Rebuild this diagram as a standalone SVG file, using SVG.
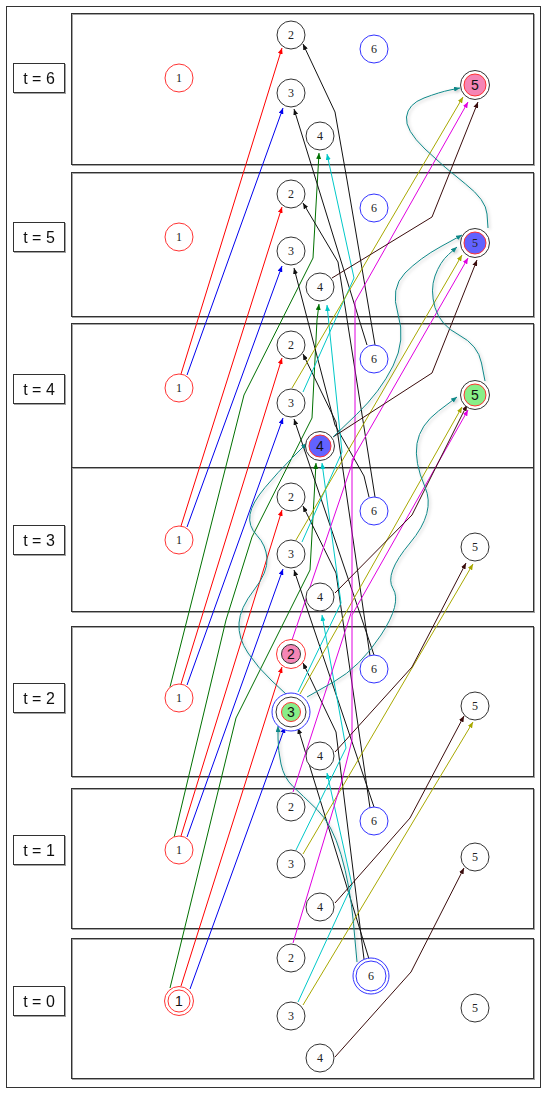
<svg xmlns="http://www.w3.org/2000/svg" width="547" height="1094" viewBox="0 0 547 1094">
<style>
.bg{fill:#fff}
.outer{fill:none;stroke:#333;stroke-width:1}
.panel{fill:none;stroke:#333;stroke-width:1}
.tbox{fill:#fff;stroke:#333;stroke-width:1}
.tl{font-family:"Liberation Sans",Arial,sans-serif;font-size:16px;fill:#111;text-anchor:middle}
.nc{fill:#fff;stroke:#333;stroke-width:1}
.nr{fill:#fff;stroke:#f33;stroke-width:1}
.nb{fill:#fff;stroke:#33f;stroke-width:1}
.nl{font-family:"Liberation Serif","Times New Roman",serif;font-size:12px;fill:#222;text-anchor:middle}
.hl{font-family:"Liberation Sans",Arial,sans-serif;font-size:14px;fill:#111;text-anchor:middle}
.e{fill:none;stroke-width:1}
.red{stroke:#ff0000;marker-end:url(#a-red)}
.blu{stroke:#0000ee;marker-end:url(#a-blu)}
.grn{stroke:#007000;marker-end:url(#a-grn)}
.blk{stroke:#111;marker-end:url(#a-blk)}
.cya{stroke:#00c8c8;marker-end:url(#a-cya)}
.oli{stroke:#a8a800;marker-end:url(#a-oli)}
.mag{stroke:#e000e0;marker-end:url(#a-mag)}
.brn{stroke:#3a0c0c;marker-end:url(#a-brn)}
.tea{stroke:#108888;marker-end:url(#a-tea);filter:url(#glow)}
</style>
<defs>
<filter id="glow" x="-20%" y="-20%" width="140%" height="140%">
<feDropShadow dx="1.5" dy="1.5" stdDeviation="1.5" flood-color="#000" flood-opacity="0.25"/>
</filter>
<filter id="psh" x="-5%" y="-5%" width="110%" height="110%">
<feDropShadow dx="1" dy="1" stdDeviation="0.6" flood-color="#666" flood-opacity="0.6"/>
</filter>
<marker id="a-red" viewBox="0 0 6 5" refX="6" refY="2.5" markerWidth="6" markerHeight="5" markerUnits="userSpaceOnUse" orient="auto"><path d="M0,0L6,2.5L0,5z" fill="#ff0000"/></marker>
<marker id="a-blu" viewBox="0 0 6 5" refX="6" refY="2.5" markerWidth="6" markerHeight="5" markerUnits="userSpaceOnUse" orient="auto"><path d="M0,0L6,2.5L0,5z" fill="#0000ee"/></marker>
<marker id="a-grn" viewBox="0 0 6 5" refX="6" refY="2.5" markerWidth="6" markerHeight="5" markerUnits="userSpaceOnUse" orient="auto"><path d="M0,0L6,2.5L0,5z" fill="#007000"/></marker>
<marker id="a-blk" viewBox="0 0 6 5" refX="6" refY="2.5" markerWidth="6" markerHeight="5" markerUnits="userSpaceOnUse" orient="auto"><path d="M0,0L6,2.5L0,5z" fill="#111"/></marker>
<marker id="a-cya" viewBox="0 0 6 5" refX="6" refY="2.5" markerWidth="6" markerHeight="5" markerUnits="userSpaceOnUse" orient="auto"><path d="M0,0L6,2.5L0,5z" fill="#00c8c8"/></marker>
<marker id="a-oli" viewBox="0 0 6 5" refX="6" refY="2.5" markerWidth="6" markerHeight="5" markerUnits="userSpaceOnUse" orient="auto"><path d="M0,0L6,2.5L0,5z" fill="#a8a800"/></marker>
<marker id="a-mag" viewBox="0 0 6 5" refX="6" refY="2.5" markerWidth="6" markerHeight="5" markerUnits="userSpaceOnUse" orient="auto"><path d="M0,0L6,2.5L0,5z" fill="#e000e0"/></marker>
<marker id="a-brn" viewBox="0 0 6 5" refX="6" refY="2.5" markerWidth="6" markerHeight="5" markerUnits="userSpaceOnUse" orient="auto"><path d="M0,0L6,2.5L0,5z" fill="#3a0c0c"/></marker>
<marker id="a-tea" viewBox="0 0 6 5" refX="6" refY="2.5" markerWidth="6" markerHeight="5" markerUnits="userSpaceOnUse" orient="auto"><path d="M0,0L6,2.5L0,5z" fill="#108888"/></marker>
</defs>
<rect class="bg" x="0" y="0" width="547" height="1094"/>
<rect class="outer" x="6.5" y="6.5" width="534" height="1081"/>
<g id="panels" filter="url(#psh)">
<rect class="panel" x="71.5" y="13.5" width="462" height="151"/>
<rect class="panel" x="71.5" y="172.5" width="462" height="144"/>
<rect class="panel" x="71.5" y="323.5" width="462" height="144"/>
<rect class="panel" x="71.5" y="467.5" width="462" height="144"/>
<rect class="panel" x="71.5" y="626.5" width="462" height="150"/>
<rect class="panel" x="71.5" y="788.5" width="462" height="140"/>
<rect class="panel" x="71.5" y="938.5" width="462" height="140"/>
</g>
<g id="time-labels" filter="url(#psh)">
<g id="label-t6"><rect class="tbox" x="13.5" y="63.5" width="51" height="29"/><text class="tl" x="39" y="84">t = 6</text></g>
<g id="label-t5"><rect class="tbox" x="13.5" y="222.5" width="51" height="29"/><text class="tl" x="39" y="243">t = 5</text></g>
<g id="label-t4"><rect class="tbox" x="13.5" y="374.5" width="51" height="29"/><text class="tl" x="39" y="395">t = 4</text></g>
<g id="label-t3"><rect class="tbox" x="13.5" y="525.5" width="51" height="29"/><text class="tl" x="39" y="546">t = 3</text></g>
<g id="label-t2"><rect class="tbox" x="13.5" y="683.5" width="51" height="29"/><text class="tl" x="39" y="704">t = 2</text></g>
<g id="label-t1"><rect class="tbox" x="13.5" y="835.5" width="51" height="29"/><text class="tl" x="39" y="856">t = 1</text></g>
<g id="label-t0"><rect class="tbox" x="13.5" y="986.5" width="51" height="29"/><text class="tl" x="39" y="1007">t = 0</text></g>
</g>
<g id="connectors">
<!-- red 1 -> 2 -->
<path class="e red" d="M181,986L282,667"/>
<path class="e red" d="M181,836L282,510"/>
<path class="e red" d="M181,684L282,358"/>
<path class="e red" d="M181,526L282,207"/>
<path class="e red" d="M181,374L282,48"/>
<!-- blue 1 -> 3 -->
<path class="e blu" d="M190,989L285,727"/>
<path class="e blu" d="M187,837L283,569"/>
<path class="e blu" d="M187,685L283,418"/>
<path class="e blu" d="M187,527L282,266"/>
<path class="e blu" d="M187,375L283,108"/>
<!-- green 1 -> 4 -->
<path class="e grn" d="M170,988L236,718L310,570L316,463"/>
<path class="e grn" d="M173,842L226,620L252,537L312,418L317,320L319,304"/>
<path class="e grn" d="M170,687L244,395L313,258L319,153"/>
<!-- black 6 -> 2 -->
<path class="e blk" d="M364,959L336,732L303,663"/>
<path class="e blk" d="M370,808L336,573L303,506"/>
<path class="e blk" d="M370,656L336,422L303,354"/>
<path class="e blk" d="M375,497L338,262L303,203"/>
<path class="e blk" d="M375,345L347,180L335,112L303,44"/>
<!-- black 6 -> 3 -->
<path class="e blk" d="M369,959L298,728"/>
<path class="e blk" d="M374,807L294,570"/>
<path class="e blk" d="M374,655L294,419"/>
<path class="e blk" d="M369,497L364,476L335,425L294,268"/>
<path class="e blk" d="M367,345L294,109"/>
<!-- cyan 3 -> 4 -->
<path class="e cya" d="M298,1002L352,885L327,773"/>
<path class="e cya" d="M296,850L346,748L322,615"/>
<path class="e cya" d="M298,692L341,603L322,463"/>
<path class="e cya" d="M302,542L342,452L327,305"/>
<path class="e cya" d="M303,392L354,278L327,154"/>
<!-- olive 3 -> 5 -->
<path class="e oli" d="M303,1005L473,722"/>
<path class="e oli" d="M303,854L473,564"/>
<path class="e oli" d="M300,694L462,407"/>
<path class="e oli" d="M296,540L462,255"/>
<path class="e oli" d="M292,388L463,97"/>
<!-- magenta 2 -> 5 -->
<path class="e mag" d="M293,943L342,780L352,740L352,615L468,410"/>
<path class="e mag" d="M293,792L352,610L352,460L468,258"/>
<path class="e mag" d="M292,640L355,455L355,302L468,102"/>
<!-- brown 4 -> 5 -->
<path class="e brn" d="M335,1057L411,972L464,868"/>
<path class="e brn" d="M335,903L410,818L464,716"/>
<path class="e brn" d="M335,752L412,667L466,563"/>
<path class="e brn" d="M335,593L412,515L467,405"/>
<path class="e brn" d="M333,437L432,373L477,260"/>
<path class="e brn" d="M332,278L432,217L478,102"/>
<!-- teal highlighted -->
<path class="e tea" d="M357,962L353.5,923.5Q350,885 341,854.5Q332,824 317,809.5Q302,795 293,786.5Q284,778 281,764Q278,750 278,738L278,726"/>
<path class="e tea" d="M286,694L272,681Q258,668 248,653Q238,638 239,623Q240,608 254,590Q268,572 267,558.5Q266,545 257,535.5Q248,526 250,514.5Q252,503 265,487.5Q278,472 292.5,457.5L307,443"/>
<path class="e tea" d="M307,697L333.5,682Q360,667 381,635Q402,603 393,588.5Q384,574 410,543Q436,512 425,487Q414,462 417,443.5Q420,425 438.5,411L457,397"/>
<path class="e tea" d="M333,437L356.5,414.5Q380,392 393,366Q406,340 398,314Q390,288 405,273Q420,258 441,246.5L462,235"/>
<path class="e tea" d="M485,381L481.5,363Q478,345 459,335Q440,325 435,307.5Q430,290 435,276Q440,262 448.5,254.5L457,247"/>
<path class="e tea" d="M488,228L487,214Q486,200 465.5,184Q445,168 425,149Q405,130 406.5,117Q408,104 424,98Q440,92 450,90L460,88"/>
</g>
<!-- t = 6 -->
<g id="n1_t6"><circle class="nr" cx="179" cy="78" r="14"/><text class="nl" x="179" y="82">1</text></g>
<g id="n2_t6"><circle class="nc" cx="291" cy="35" r="14"/><text class="nl" x="291" y="39">2</text></g>
<g id="n3_t6"><circle class="nc" cx="291" cy="93" r="14"/><text class="nl" x="291" y="97">3</text></g>
<g id="n4_t6"><circle class="nc" cx="320" cy="136" r="14"/><text class="nl" x="320" y="140">4</text></g>
<g id="n6_t6"><circle class="nb" cx="374" cy="49" r="14"/><text class="nl" x="374" y="53">6</text></g>
<g id="n5_t6"><circle class="nc" cx="475" cy="85" r="14.5"/><circle cx="475" cy="85" r="11" fill="#f585b5" stroke="#f33"/><text class="hl" x="475" y="90">5</text></g>
<!-- t = 5 -->
<g id="n1_t5"><circle class="nr" cx="179" cy="237" r="14"/><text class="nl" x="179" y="241">1</text></g>
<g id="n2_t5"><circle class="nc" cx="291" cy="194" r="14"/><text class="nl" x="291" y="198">2</text></g>
<g id="n3_t5"><circle class="nc" cx="291" cy="251" r="14"/><text class="nl" x="291" y="255">3</text></g>
<g id="n4_t5"><circle class="nc" cx="320" cy="287" r="14"/><text class="nl" x="320" y="291">4</text></g>
<g id="n6_t5"><circle class="nb" cx="374" cy="208" r="14"/><text class="nl" x="374" y="212">6</text></g>
<g id="n5_t5"><circle class="nc" cx="475" cy="243" r="14.5"/><circle cx="475" cy="243" r="11" fill="#6262ff" stroke="#f33"/><text class="nl" x="475" y="247">5</text></g>
<!-- t = 4 -->
<g id="n1_t4"><circle class="nr" cx="179" cy="388" r="14"/><text class="nl" x="179" y="392">1</text></g>
<g id="n2_t4"><circle class="nc" cx="291" cy="345" r="14"/><text class="nl" x="291" y="349">2</text></g>
<g id="n3_t4"><circle class="nc" cx="291" cy="403" r="14"/><text class="nl" x="291" y="407">3</text></g>
<g id="n4_t4"><circle class="nc" cx="320" cy="446" r="14.5"/><circle cx="320" cy="446" r="11" fill="#6262ff" stroke="#f33"/><text class="hl" x="320" y="451">4</text></g>
<g id="n6_t4"><circle class="nb" cx="374" cy="359" r="14"/><text class="nl" x="374" y="363">6</text></g>
<g id="n5_t4"><circle class="nc" cx="475" cy="395" r="14.5"/><circle cx="475" cy="395" r="11" fill="#88ee88" stroke="#f33"/><text class="hl" x="475" y="400">5</text></g>
<!-- t = 3 -->
<g id="n1_t3"><circle class="nr" cx="179" cy="540" r="14"/><text class="nl" x="179" y="544">1</text></g>
<g id="n2_t3"><circle class="nc" cx="291" cy="497" r="14"/><text class="nl" x="291" y="501">2</text></g>
<g id="n3_t3"><circle class="nc" cx="291" cy="554" r="14"/><text class="nl" x="291" y="558">3</text></g>
<g id="n4_t3"><circle class="nc" cx="320" cy="597" r="14"/><text class="nl" x="320" y="601">4</text></g>
<g id="n6_t3"><circle class="nb" cx="374" cy="511" r="14"/><text class="nl" x="374" y="515">6</text></g>
<g id="n5_t3"><circle class="nc" cx="475" cy="547" r="14"/><text class="nl" x="475" y="551">5</text></g>
<!-- t = 2 -->
<g id="n1_t2"><circle class="nr" cx="179" cy="698" r="14"/><text class="nl" x="179" y="702">1</text></g>
<g id="n2_t2"><circle class="nr" cx="291" cy="654" r="14.5"/><circle cx="291" cy="654" r="9.5" fill="#f585b5" stroke="#333"/><text class="hl" x="291" y="659">2</text></g>
<g id="n3_t2"><circle class="nb" cx="291" cy="712" r="19"/><circle cx="291" cy="712" r="15" fill="#fff" stroke="#333"/><circle cx="291" cy="712" r="9.5" fill="#88ee88" stroke="#f33"/><text class="hl" x="291" y="717">3</text></g>
<g id="n4_t2"><circle class="nc" cx="320" cy="756" r="14"/><text class="nl" x="320" y="760">4</text></g>
<g id="n6_t2"><circle class="nb" cx="374" cy="669" r="14"/><text class="nl" x="374" y="673">6</text></g>
<g id="n5_t2"><circle class="nc" cx="475" cy="706" r="14"/><text class="nl" x="475" y="710">5</text></g>
<!-- t = 1 -->
<g id="n1_t1"><circle class="nr" cx="179" cy="850" r="14"/><text class="nl" x="179" y="854">1</text></g>
<g id="n2_t1"><circle class="nc" cx="291" cy="807" r="14"/><text class="nl" x="291" y="811">2</text></g>
<g id="n3_t1"><circle class="nc" cx="291" cy="864" r="14"/><text class="nl" x="291" y="868">3</text></g>
<g id="n4_t1"><circle class="nc" cx="320" cy="907" r="14"/><text class="nl" x="320" y="911">4</text></g>
<g id="n6_t1"><circle class="nb" cx="374" cy="821" r="14"/><text class="nl" x="374" y="825">6</text></g>
<g id="n5_t1"><circle class="nc" cx="475" cy="857" r="14"/><text class="nl" x="475" y="861">5</text></g>
<!-- t = 0 -->
<g id="n1_t0"><circle class="nr" cx="179" cy="1001" r="14.5"/><circle cx="179" cy="1001" r="11" fill="none" stroke="#f33"/><text class="hl" x="179" y="1006">1</text></g>
<g id="n2_t0"><circle class="nc" cx="291" cy="958" r="14"/><text class="nl" x="291" y="962">2</text></g>
<g id="n3_t0"><circle class="nc" cx="291" cy="1016" r="14"/><text class="nl" x="291" y="1020">3</text></g>
<g id="n4_t0"><circle class="nc" cx="320" cy="1058" r="14"/><text class="nl" x="320" y="1062">4</text></g>
<g id="n6_t0"><circle class="nb" cx="371" cy="976" r="18"/><circle cx="371" cy="976" r="15" fill="none" stroke="#33f"/><text class="nl" x="371" y="980">6</text></g>
<g id="n5_t0"><circle class="nc" cx="475" cy="1008" r="14"/><text class="nl" x="475" y="1012">5</text></g>
</svg>
